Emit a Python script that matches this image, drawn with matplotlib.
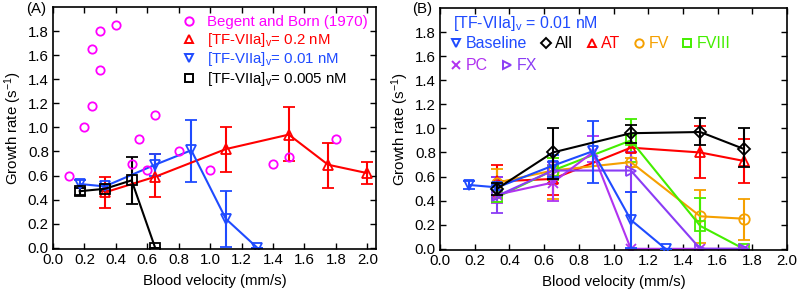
import matplotlib
matplotlib.use("Agg")
import matplotlib.pyplot as plt
from matplotlib.lines import Line2D
import numpy as np

plt.rcParams['font.family'] = ['Liberation Sans', 'DejaVu Sans']
plt.rcParams['font.size'] = 10.8
plt.rcParams['mathtext.fontset'] = 'custom'
plt.rcParams['mathtext.rm'] = 'Liberation Sans'
plt.rcParams['mathtext.it'] = 'Liberation Sans'

# ---------------- Panel A data ----------------
bb_x = [0.1, 0.2, 0.25, 0.25, 0.3, 0.3, 0.4, 0.5, 0.55, 0.6, 0.65, 0.8, 1.0, 1.4, 1.5, 1.8]
bb_y = [0.6, 1.0, 1.18, 1.65, 1.48, 1.8, 1.85, 0.7, 0.9, 0.65, 1.1, 0.8, 0.65, 0.7, 0.75, 0.9]

a02_x = [0.33, 0.65, 1.1, 1.5, 1.75, 2.0]
a02_y = [0.46, 0.59, 0.82, 0.94, 0.69, 0.62]
a02_lo = [0.33, 0.42, 0.63, 0.72, 0.50, 0.53]
a02_hi = [0.59, 0.78, 1.00, 1.17, 0.87, 0.71]

a001_x = [0.17, 0.33, 0.65, 0.88, 1.1, 1.3]
a001_y = [0.53, 0.51, 0.69, 0.81, 0.24, 0.0]
a001_lo = [0.50, 0.49, 0.60, 0.55, 0.01, 0.0]
a001_hi = [0.56, 0.53, 0.78, 1.06, 0.47, 0.0]

a0005_x = [0.17, 0.33, 0.5, 0.65]
a0005_y = [0.47, 0.49, 0.56, 0.0]
a0005_lo = [0.44, 0.47, 0.36, 0.0]
a0005_hi = [0.50, 0.52, 0.75, 0.0]

# ---------------- Panel B data ----------------
b_x5 = [0.33, 0.65, 1.1, 1.5, 1.75]
all_y = [0.50, 0.80, 0.96, 0.97, 0.83]
all_lo = [0.45, 0.58, 0.88, 0.86, 0.68]
all_hi = [0.55, 1.00, 1.03, 1.09, 1.00]

at_y = [0.56, 0.58, 0.84, 0.80, 0.73]
at_lo = [0.44, 0.45, 0.80, 0.59, 0.55]
at_hi = [0.70, 0.72, 0.88, 1.02, 0.91]

fv_y = [0.55, 0.65, 0.72, 0.27, 0.25]
fv_lo = [0.42, 0.41, 0.68, 0.05, 0.07]
fv_hi = [0.66, 0.75, 0.75, 0.49, 0.41]

f8_y = [0.43, 0.65, 0.90, 0.19, 0.0]
f8_lo = [0.39, 0.57, 0.72, 0.0, 0.0]
f8_hi = [0.55, 0.75, 1.08, 0.42, 0.0]

pc_x = [0.33, 0.65, 0.88, 1.1, 1.5, 1.75]
pc_y = [0.45, 0.55, 0.80, 0.0, 0.0, 0.0]
pc_lo = [0.38, 0.40, 0.72, 0.0, 0.0, 0.0]
pc_hi = [0.60, 0.70, 0.94, 0.0, 0.0, 0.0]

fx_y = [0.44, 0.65, 0.65, 0.0, 0.0]
fx_lo = [0.30, 0.55, 0.47, 0.0, 0.0]
fx_hi = [0.60, 0.72, 0.80, 0.0, 0.0]

C_MAG = '#ff00ff'
C_RED = '#ff0000'
C_BLUE = '#1f4bff'
C_BLK = '#000000'
C_ORG = '#f5a000'
C_GRN = '#44ee00'
C_PC = '#b033f0'
C_FX = '#8a3cf5'

fig = plt.figure(figsize=(8.0, 2.96), dpi=100)
axA = fig.add_axes([53/800, 1-249/296, 323/800, 242/296])
axB = fig.add_axes([440/800, 1-250/296, 347/800, 242/296])

LW = 1.5
MS = 7.5
MEW = 1.3
CAP = 4
FS = 10.8


def eb(ax, x, y, lo, hi, color, marker, ms=MS, z=2):
    y = np.asarray(y); lo = np.asarray(lo); hi = np.asarray(hi)
    err = np.vstack([y - lo, hi - y])
    ax.errorbar(x, y, yerr=err, color=color, marker=marker, ms=ms, mfc='none',
                mec=color, mew=MEW, lw=LW, capsize=CAP, capthick=LW,
                elinewidth=LW, zorder=z)


def handle(color, marker, ms=6):
    return Line2D([], [], linestyle='none', marker=marker, ms=ms, mfc='none',
                  mec=color, mew=1.4, color=color)


# Panel A
axA.plot(bb_x, bb_y, linestyle='none', marker='o', ms=6, mfc='none',
         mec=C_MAG, color=C_MAG, mew=MEW, zorder=3)
eb(axA, a02_x, a02_y, a02_lo, a02_hi, C_RED, '^')
eb(axA, a001_x, a001_y, a001_lo, a001_hi, C_BLUE, 'v')
eb(axA, a0005_x, a0005_y, a0005_lo, a0005_hi, C_BLK, 's')

sub = r'$_{\mathregular{v}}$'
hA = [handle(C_MAG, 'o'), handle(C_RED, '^'), handle(C_BLUE, 'v'), handle(C_BLK, 's')]
lA = ['Begent and Born (1970)', '[TF-VIIa]' + sub + '= 0.2 nM',
      '[TF-VIIa]' + sub + '= 0.01 nM', '[TF-VIIa]' + sub + '= 0.005 nM']
axA.legend(hA, lA, loc='upper right', bbox_to_anchor=(1.0, 1.0), frameon=False,
           handlelength=1.0, handletextpad=0.7, borderaxespad=0.15,
           labelspacing=0.1, labelcolor='linecolor', fontsize=FS)

# Panel B
eb(axB, a001_x, a001_y, a001_lo, a001_hi, C_BLUE, 'v', z=4)
eb(axB, b_x5, all_y, all_lo, all_hi, C_BLK, 'D', ms=6.5, z=5)
eb(axB, b_x5, at_y, at_lo, at_hi, C_RED, '^')
eb(axB, b_x5, fv_y, fv_lo, fv_hi, C_ORG, 'o')
eb(axB, b_x5, f8_y, f8_lo, f8_hi, C_GRN, 's')
eb(axB, pc_x, pc_y, pc_lo, pc_hi, C_PC, 'x')
eb(axB, b_x5, fx_y, fx_lo, fx_hi, C_FX, '>')

FSB = 11.5
h1 = [handle(C_BLUE, 'v'), handle(C_BLK, 'D', 5.5), handle(C_RED, '^'),
      handle(C_ORG, 'o'), handle(C_GRN, 's')]
l1 = ['Baseline', 'All', 'AT', 'FV', 'FVIII']
leg1 = axB.legend(h1, l1, ncol=5, loc='center left', bbox_to_anchor=(0.015, 0.852),
                  frameon=False, handlelength=0.6, handletextpad=0.3,
                  columnspacing=0.85, borderaxespad=0.0, labelcolor='linecolor',
                  fontsize=FSB)
axB.add_artist(leg1)
h2 = [handle(C_PC, 'x'), handle(C_FX, '>')]
l2 = ['PC', 'FX']
axB.legend(h2, l2, ncol=2, loc='center left', bbox_to_anchor=(0.015, 0.762),
           frameon=False, handlelength=0.6, handletextpad=0.3,
           columnspacing=0.9, borderaxespad=0.0, labelcolor='linecolor',
           fontsize=FSB)
axB.text(0.037, 0.935, '[TF-VIIa]' + sub + ' = 0.01 nM', color=C_BLUE,
         transform=axB.transAxes, ha='left', va='center', fontsize=FSB)

for ax, xmax in ((axA, 2.055), (axB, 1.98)):
    ax.set_xlim(0, xmax)
    ax.set_ylim(-0.01, 2.0)
    ax.set_xticks(np.arange(0, 2.01, 0.2))
    ax.set_yticks(np.arange(0, 1.81, 0.2))
    ax.xaxis.set_major_formatter(matplotlib.ticker.FormatStrFormatter('%.1f'))
    ax.yaxis.set_major_formatter(matplotlib.ticker.FormatStrFormatter('%.1f'))
    ax.tick_params(direction='in', top=True, right=True, length=4, width=1,
                   labelsize=FS, pad=3)
    for s in ax.spines.values():
        s.set_linewidth(1.2)
    ax.set_xlabel('Blood velocity (mm/s)', fontsize=FS, labelpad=5)
    ax.set_ylabel(r'Growth rate (s$^{\mathregular{-1}}$)', fontsize=FS, labelpad=3)

fig.text(26/800, 1-9/296, '(A)', ha='left', va='center', fontsize=FS)
fig.text(412/800, 1-9/296, '(B)', ha='left', va='center', fontsize=FS)

fig.savefig('out.png', dpi=100)
